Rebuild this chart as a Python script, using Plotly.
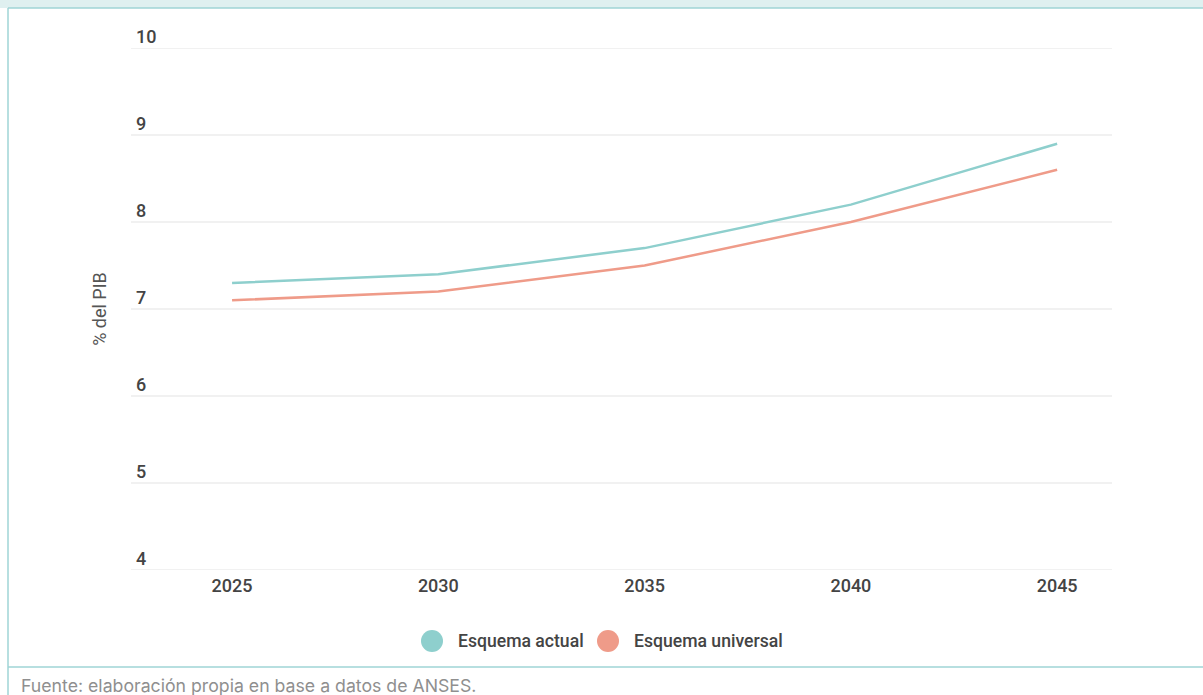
import plotly.graph_objects as go

years = [2025, 2030, 2035, 2040, 2045]
esquema_actual = [7.3, 7.4, 7.7, 8.2, 8.9]
esquema_universal = [7.1, 7.2, 7.5, 8.0, 8.6]
y_ticks = [4, 5, 6, 7, 8, 9, 10]
series_names = ["Esquema actual", "Esquema universal"]

c_actual = "#8ecfcd"
c_univ = "#ef9b89"

W, H = 1203, 695
L, R, T, B = 131, 91, 48, 125
pw, ph = W - L - R, H - T - B

def px(x):
    return (x - L) / pw

def py(y):
    return (H - B - y) / ph

fig = go.Figure()
fig.add_trace(go.Scatter(x=years, y=esquema_actual, mode="lines", name=series_names[0],
                         line=dict(color=c_actual, width=2.5), showlegend=False))
fig.add_trace(go.Scatter(x=years, y=esquema_universal, mode="lines", name=series_names[1],
                         line=dict(color=c_univ, width=2.5), showlegend=False))

border = "#9fd5d6"
shapes = [
    dict(type="rect", xref="paper", yref="paper", x0=px(0), x1=px(W), y0=py(8), y1=py(0),
         fillcolor="#dff0f0", line=dict(width=0), layer="below"),
    dict(type="line", xref="paper", yref="paper", x0=px(8), x1=px(W), y0=py(8), y1=py(8),
         line=dict(color=border, width=1.5)),
    dict(type="line", xref="paper", yref="paper", x0=px(8), x1=px(8), y0=py(8), y1=py(H),
         line=dict(color=border, width=1.5)),
    dict(type="line", xref="paper", yref="paper", x0=px(8), x1=px(W), y0=py(667), y1=py(667),
         line=dict(color=border, width=1.5)),
]

# horizontal gridlines at each y tick
for v in y_ticks:
    shapes.append(dict(type="line", xref="paper", yref="y", x0=0, x1=1, y0=v, y1=v,
                       line=dict(color="#e3e3e3", width=1), layer="below"))

annotations = []
# y tick labels above gridlines
for v in y_ticks:
    annotations.append(dict(text=str(v), xref="paper", yref="y", x=px(134), y=v,
                            xanchor="left", yanchor="bottom", yshift=-1, showarrow=False,
                            font=dict(family="Roboto", size=18, color="#444444", weight=500)))

# legend (custom, large circular swatches)
leg = [(432, 456, c_actual, series_names[0]), (608, 632, c_univ, series_names[1])]
for cx, tx, col, name in leg:
    r = 11
    shapes.append(dict(type="circle", xref="paper", yref="paper",
                       x0=px(cx - r), x1=px(cx + r), y0=py(641 + r), y1=py(641 - r),
                       fillcolor=col, line=dict(width=0)))
    annotations.append(dict(text=name, xref="paper", yref="paper", x=px(tx), y=py(641),
                            xanchor="left", yanchor="middle", showarrow=False,
                            font=dict(family="Roboto", size=17.6, color="#444444", weight=500)))

annotations.append(dict(text="Fuente: elaboración propia en base a datos de ANSES.",
                        xref="paper", yref="paper", x=px(19), y=py(685), xanchor="left",
                        yanchor="middle", showarrow=False,
                        font=dict(family="Inter", size=17.7, color="#8f8f8f")))

fig.update_layout(
    width=W, height=H,
    margin=dict(l=L, r=R, t=T, b=B),
    paper_bgcolor="white", plot_bgcolor="white",
    font=dict(family="Roboto", color="#444444", size=16),
    showlegend=False,
    xaxis=dict(range=[2022.55, 2046.33], tickvals=years, ticktext=[str(y) for y in years],
               showgrid=False, zeroline=False, showline=False, ticks="",
               ticklabelstandoff=3,
               tickfont=dict(family="Roboto", size=18, color="#444444", weight=500)),
    yaxis=dict(range=[4, 10], tickvals=y_ticks, showgrid=False,
               zeroline=False, showline=False, ticks="", showticklabels=False,
               title=dict(text="% del PIB", font=dict(family="Roboto", size=18, color="#555555"),
                          standoff=18)),
    shapes=shapes,
    annotations=annotations,
)

fig.write_html("out.html")
